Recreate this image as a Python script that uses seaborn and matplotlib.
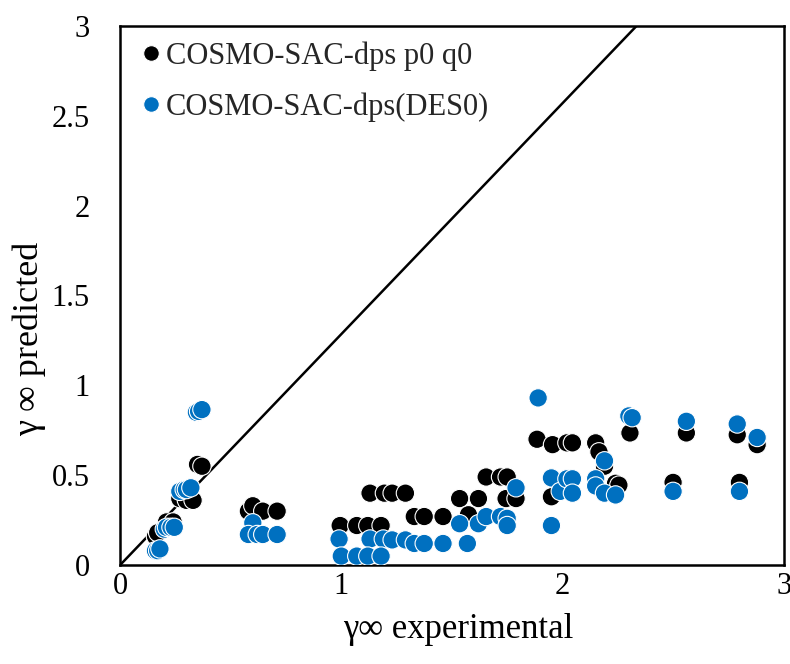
import matplotlib
matplotlib.use("Agg")
import matplotlib.pyplot as plt
import seaborn as sns
import pandas as pd

# Series 1: COSMO-SAC-dps p0 q0 (black)
p0_x = [0.16, 0.17, 0.21, 0.24, 0.27, 0.30, 0.33, 0.35, 0.37,
        0.58, 0.60, 0.645, 0.71,
        0.995, 1.07, 1.12, 1.18,
        1.13, 1.195, 1.23, 1.29,
        1.33, 1.375, 1.46,
        1.535, 1.575, 1.62, 1.655, 1.72, 1.75, 1.745, 1.79,
        1.885, 1.955, 2.02, 2.045, 1.95,
        2.15, 2.165, 2.19, 2.24, 2.255, 2.305,
        2.50, 2.56, 2.79, 2.80, 2.88]
p0_y = [0.16, 0.18, 0.24, 0.24, 0.37, 0.36, 0.36, 0.56, 0.55,
        0.30, 0.33, 0.30, 0.30,
        0.22, 0.22, 0.22, 0.22,
        0.40, 0.40, 0.40, 0.40,
        0.27, 0.27, 0.27,
        0.37, 0.28, 0.37, 0.49, 0.49, 0.49, 0.37, 0.37,
        0.70, 0.67, 0.68, 0.68, 0.38,
        0.68, 0.63, 0.55, 0.455, 0.445, 0.735,
        0.46, 0.735, 0.725, 0.46, 0.67]

# Series 2: COSMO-SAC-dps(DES0) (blue)
des_x = [0.16, 0.17, 0.18, 0.20, 0.21, 0.23, 0.245, 0.27, 0.29, 0.30, 0.32,
         0.345, 0.355, 0.37,
         0.60, 0.58, 0.62, 0.645, 0.71,
         0.99, 1.13, 1.19, 1.23, 1.29, 1.33, 1.375, 1.46,
         1.0, 1.07, 1.12, 1.18,
         1.535, 1.57, 1.62, 1.655, 1.72, 1.75, 1.75, 1.79,
         1.89, 1.95, 1.99, 1.95, 2.02, 2.045, 2.045,
         2.15, 2.15, 2.19, 2.19, 2.24, 2.30, 2.315,
         2.50, 2.56, 2.79, 2.80, 2.88]
des_y = [0.08, 0.08, 0.09, 0.20, 0.21, 0.21, 0.21, 0.41, 0.42, 0.42, 0.43,
         0.85, 0.855, 0.865,
         0.235, 0.17, 0.17, 0.17, 0.17,
         0.145, 0.145, 0.145, 0.14, 0.14, 0.12, 0.12, 0.12,
         0.05, 0.05, 0.05, 0.05,
         0.23, 0.12, 0.23, 0.27, 0.27, 0.26, 0.22, 0.43,
         0.93, 0.485, 0.41, 0.22, 0.48, 0.48, 0.40,
         0.48, 0.44, 0.58, 0.40, 0.39, 0.83, 0.82,
         0.41, 0.80, 0.785, 0.41, 0.71]

# Reference line
line_x = [0, 2.335]
line_y = [0, 3]

x_ticks = [0, 1, 2, 3]
y_ticks = [0, 0.5, 1, 1.5, 2, 2.5, 3]
y_tick_labels = ["0", "0.5", "1", "1.5", "2", "2.5", "3"]

label_p0 = "COSMO-SAC-dps p0 q0"
label_des = "COSMO-SAC-dps(DES0)"

df = pd.concat([
    pd.DataFrame({"x": p0_x, "y": p0_y, "model": label_p0}),
    pd.DataFrame({"x": des_x, "y": des_y, "model": label_des}),
], ignore_index=True)

sns.set_theme(style="white")
plt.rcParams["font.family"] = ["Liberation Serif", "DejaVu Serif"]

fig = plt.figure(figsize=(7.9, 6.64), dpi=100)
ax = fig.add_axes([0.152, 0.149, 0.840, 0.812])

ax.plot(line_x, line_y, color="black", linewidth=1.8, zorder=1)

sns.scatterplot(data=df, x="x", y="y", hue="model",
                palette={label_p0: "black", label_des: "#0070C0"},
                s=175, edgecolor="white", linewidth=0.8, ax=ax, zorder=3,
                legend=True)

ax.set_xlim(0, 3)
ax.set_ylim(0, 3)
ax.set_xticks(x_ticks)
ax.set_xticklabels([str(t) for t in x_ticks])
ax.set_yticks(y_ticks)
ax.set_yticklabels(y_tick_labels)
ax.tick_params(axis="both", length=0, labelsize=22, colors="black")
ax.tick_params(axis="x", pad=5)
ax.tick_params(axis="y", pad=22)

for sp in ax.spines.values():
    sp.set_color("black")
    sp.set_linewidth(1.8)

ax.set_xlabel("γ∞ experimental", fontsize=25, color="black")
ax.xaxis.set_label_coords(0.51, -0.088)
ax.set_ylabel("γ ∞ predicted", fontsize=26, color="black")
ax.yaxis.set_label_coords(-0.112, 0.42)

leg = ax.legend(loc="upper left", frameon=False, fontsize=22,
                markerscale=0.85, handlelength=1.0, handletextpad=0.0,
                labelspacing=0.72, borderaxespad=0.3, borderpad=0.2)

fig.savefig("out.png", dpi=100)
